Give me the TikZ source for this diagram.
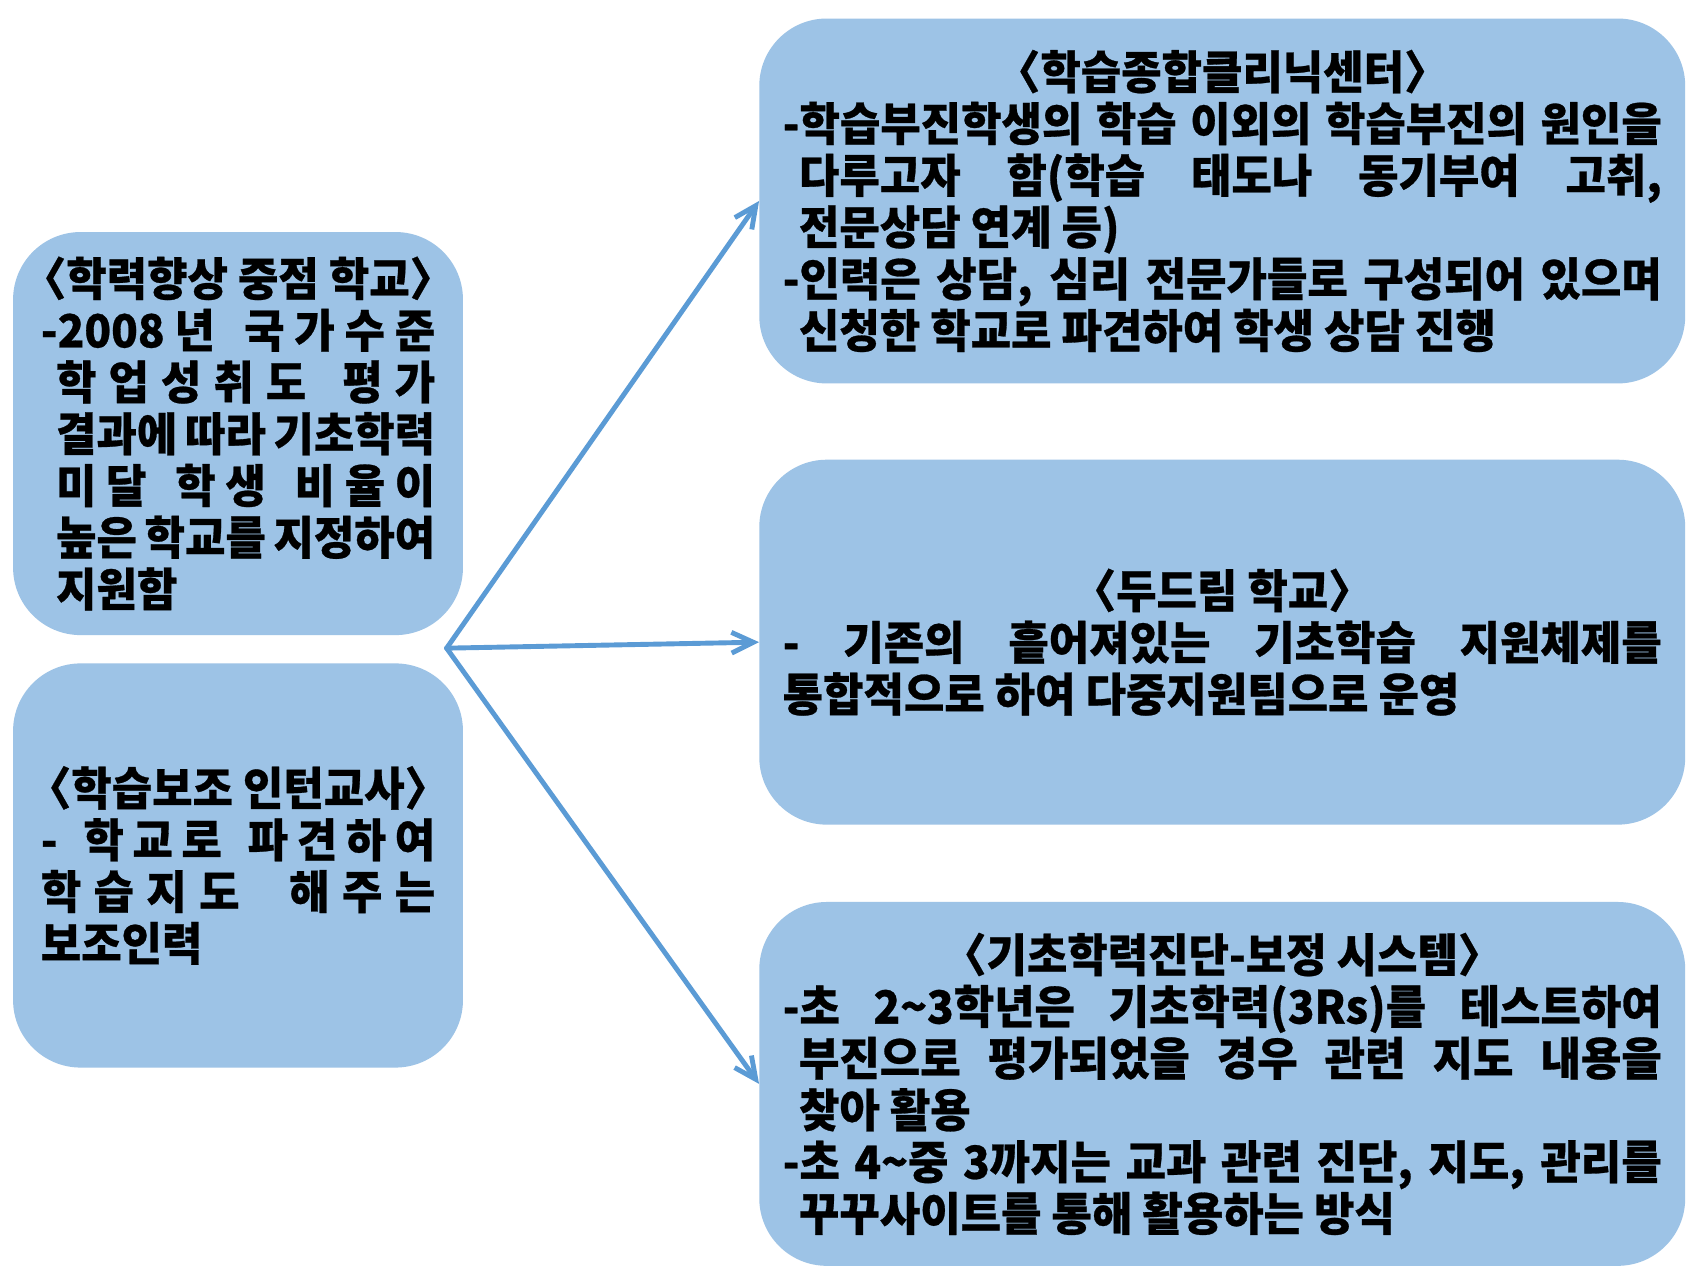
\documentclass[tikz,border=0pt]{standalone}
\usepackage{fontspec}
\setmainfont{Noto Sans CJK KR}[FakeStretch=0.96,BoldFeatures={FakeBold=0.6}]
\usetikzlibrary{arrows.meta}
\definecolor{boxblue}{HTML}{9DC3E6}
\definecolor{arrblue}{HTML}{5B9BD5}
\newlength\lw
\newcommand\g{\hskip 0pt plus 1fil\relax}
\newcommand\tl[1]{\hbox to \lw{\hss #1\hss}}
\newcommand\jl[2]{\hbox to \lw{\hskip#1\relax #2}}
\newcommand\rl[2]{\hbox to \lw{\hskip#1\relax #2\hfil}}
\begin{document}
\begin{tikzpicture}[x=1pt,y=1pt,
  box/.style 2 args={fill=boxblue,draw=none,rounded corners=62pt,
    minimum width=#1,minimum height=#2,inner sep=0pt,
    font=\fontsize{42pt}{47.5pt}\selectfont\bfseries},
  arr/.style={draw=arrblue,line width=4.5pt,line cap=round,line join=round,
    -{Straight Barb[length=20pt,width=19pt,line width=4.5pt]}}]
\useasboundingbox (0,0) rectangle (1567,-1175);
\fill[white] (0,0) rectangle (1567,-1175);

\node[box={413}{370}] (L1) at (218.5,-398) {\vbox{\setlength\lw{362pt}\hsize=\lw
  \baselineskip=47.5pt
  \tl{〈학력향상 중점 학교〉}
  \jl{0pt}{-2008\g 년\g\g\g 국\g 가\g 수\g 준}
  \jl{14pt}{학\g 업\g 성\g 취\g 도\g\g\g 평\g 가}
  \jl{14pt}{결과에 따라 기초학력}
  \jl{14pt}{미\g 달\g\g\g 학\g 생\g\g\g 비\g 율\g 이}
  \jl{14pt}{높은 학교를 지정하여}
  \rl{14pt}{지원함}}};

\node[box={413}{371}] (L2) at (218.5,-794.5) {\vbox{\setlength\lw{362pt}\hsize=\lw
  \baselineskip=47.5pt
  \tl{〈학습보조 인턴교사〉}
  \jl{0pt}{-\g\g\g 학\g 교\g 로\g\g\g 파\g 견\g 하\g 여}
  \jl{0pt}{학\g 습\g 지\g 도\g\g\g\g 해\g 주\g 는}
  \rl{0pt}{보조인력}}};

\node[box={850}{335}] (R1) at (1122,-184.5) {\vbox{\setlength\lw{807pt}\hsize=\lw
  \baselineskip=47.5pt
  \tl{〈학습종합클리닉센터〉}
  \jl{0pt}{-학습부진학생의 학습 이외의 학습부진의 원인을}
  \jl{15pt}{다루고자 함(학습 태도나 동기부여 고취,}
  \rl{15pt}{전문상담 연계 등)}
  \jl{0pt}{-인력은 상담, 심리 전문가들로 구성되어 있으며}
  \rl{15pt}{신청한 학교로 파견하여 학생 상담 진행}}};

\node[box={850}{335}] (R2) at (1122,-589.5) {\vbox{\setlength\lw{807pt}\hsize=\lw
  \baselineskip=47.5pt
  \tl{〈두드림 학교〉}
  \jl{0pt}{-\g 기존의\g 흩어져있는\g 기초학습\g 지원체제를}
  \rl{0pt}{통합적으로 하여 다중지원팀으로 운영}}};

\node[box={850}{334}] (R3) at (1122,-995) {\vbox{\setlength\lw{807pt}\hsize=\lw
  \baselineskip=47.5pt
  \tl{〈기초학력진단-보정 시스템〉}
  \jl{0pt}{-초 2\textasciitilde 3학년은 기초학력(3Rs)를 테스트하여}
  \jl{15pt}{부진으로 평가되었을 경우 관련 지도 내용을}
  \rl{15pt}{찾아 활용}
  \jl{0pt}{-초 4\textasciitilde 중 3까지는 교과 관련 진단, 지도, 관리를}
  \rl{15pt}{꾸꾸사이트를 통해 활용하는 방식}}};

\coordinate (O) at (410,-595);
\draw[arr] (O) -- (R1.west);
\draw[arr] (O) -- (R2.west);
\draw[arr] (O) -- (R3.west);
\end{tikzpicture}
\end{document}
